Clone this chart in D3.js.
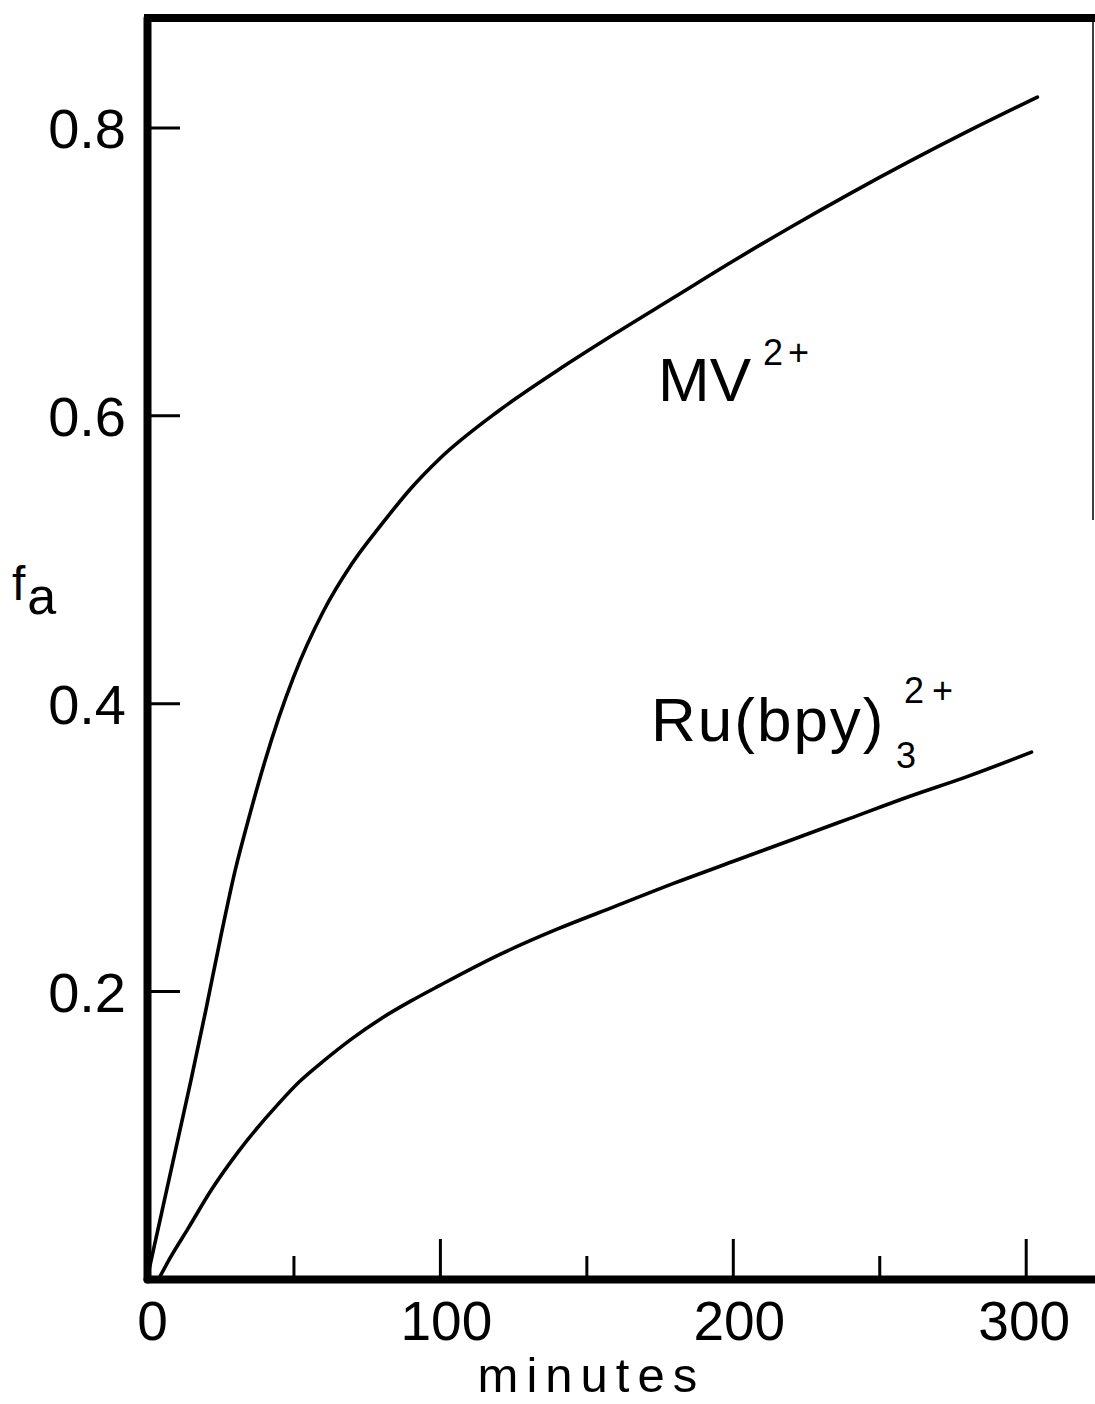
<!DOCTYPE html>
<html>
<head>
<meta charset="utf-8">
<script src="https://cdn.jsdelivr.net/npm/d3@7/dist/d3.min.js"></script>
<style>
  html, body { margin: 0; padding: 0; background: #fff; }
  svg { display: block; }
  text { font-family: "Liberation Sans", Arial, sans-serif; fill: #000; }
</style>
</head>
<body>
<svg id="chart" width="1095" height="1404"></svg>
<script>
// Fraction adsorbed (f_a) versus time in minutes
const mvMinutes = [0, 5, 10, 15, 20, 25, 30, 35, 40, 45, 50, 60, 70, 80, 90, 100, 120, 140, 160, 180, 200, 220, 240, 260, 280, 304];
const mvFraction = [0, 0.046, 0.092, 0.138, 0.186, 0.236, 0.283, 0.322, 0.358, 0.39, 0.418, 0.463, 0.497, 0.524, 0.549, 0.570, 0.603, 0.631, 0.657, 0.682, 0.707, 0.731, 0.754, 0.776, 0.797, 0.821];

const ruMinutes = [4, 8, 14, 22, 31, 45, 52, 60, 70, 80, 90, 100, 120, 140, 160, 180, 200, 220, 240, 260, 280, 302];
const ruFraction = [0, 0.015, 0.035, 0.062, 0.088, 0.122, 0.137, 0.151, 0.167, 0.181, 0.193, 0.204, 0.225, 0.243, 0.259, 0.275, 0.29, 0.305, 0.32, 0.335, 0.349, 0.366];

const xMajorTicks = [0, 100, 200, 300];
const xMinorTicks = [50, 150, 250];
const yTicks = [0.2, 0.4, 0.6, 0.8];
const yTickLabels = ["0.2", "0.4", "0.6", "0.8"];

const svg = d3.select("#chart");

const x = d3.scaleLinear().domain([0, 324]).range([147, 1096]);
const y = d3.scaleLinear().domain([0, 0.876]).range([1279, 18]);

const x0 = x(0), y0 = y(0);

// frame: top edge and a faint right edge
svg.append("line")
  .attr("x1", x0 - 3).attr("x2", 1095)
  .attr("y1", y.range()[1]).attr("y2", y.range()[1])
  .attr("stroke", "#000").attr("stroke-width", 8);
svg.append("line")
  .attr("x1", 1093).attr("x2", 1093)
  .attr("y1", y.range()[1]).attr("y2", 520)
  .attr("stroke", "#000").attr("stroke-width", 1.5);

// y axis with inward ticks
const yAxis = d3.axisLeft(y)
  .tickValues(yTicks)
  .tickFormat((d, i) => yTickLabels[i])
  .tickSizeInner(-33)
  .tickSizeOuter(0)
  .tickPadding(21);

const gy = svg.append("g")
  .attr("transform", `translate(${x0},0)`)
  .call(yAxis);
gy.select(".domain").attr("stroke-width", 8).attr("stroke-linecap", "round");
gy.selectAll(".tick line").attr("stroke-width", 3);
gy.selectAll(".tick text")
  .attr("font-size", 56)
  .attr("dy", "0.36em")
  .style("font-family", "'Liberation Sans', Arial, sans-serif");

// x axis: long ticks every 100 minutes, short ticks between
const xAxis = d3.axisBottom(x)
  .tickValues(xMajorTicks)
  .tickFormat(d3.format("d"))
  .tickSizeInner(-40)
  .tickSizeOuter(0)
  .tickPadding(22);

const gx = svg.append("g")
  .attr("transform", `translate(0,${y0})`)
  .call(xAxis);
gx.select(".domain").attr("stroke-width", 8).attr("stroke-linecap", "round");
gx.selectAll(".tick line")
  .attr("stroke-width", 3)
  .attr("display", d => d === 0 ? "none" : null);
gx.selectAll(".tick text")
  .attr("font-size", 55)
  .attr("dx", d => d === 0 ? 5 : (d === 300 ? -2 : 6))
  .style("font-family", "'Liberation Sans', Arial, sans-serif");

const xMinor = d3.axisBottom(x)
  .tickValues(xMinorTicks)
  .tickFormat("")
  .tickSizeInner(-23)
  .tickSizeOuter(0);
const gxm = svg.append("g")
  .attr("transform", `translate(0,${y0})`)
  .call(xMinor);
gxm.select(".domain").remove();
gxm.selectAll(".tick line").attr("stroke-width", 3);

// axis titles
svg.append("text")
  .attr("x", x(150) + 5).attr("y", 1392)
  .attr("text-anchor", "middle")
  .attr("font-size", 49)
  .attr("letter-spacing", 8)
  .text("minutes");

const fa = svg.append("text").attr("x", 12).attr("y", 600);
fa.append("tspan").attr("font-size", 48).text("f");
fa.append("tspan").attr("font-size", 52).attr("dy", 14).attr("dx", 2).text("a");

// curves
const line = d3.line()
  .x(d => x(d[0]))
  .y(d => y(d[1]))
  .curve(d3.curveMonotoneX);

const series = [
  d3.zip(mvMinutes, mvFraction),
  d3.zip(ruMinutes, ruFraction)
];

svg.append("g")
  .selectAll("path")
  .data(series)
  .join("path")
  .attr("d", line)
  .attr("fill", "none")
  .attr("stroke", "#000")
  .attr("stroke-width", 3.6)
  .attr("stroke-linecap", "round")
  .attr("stroke-linejoin", "round");

// curve labels
const mv = svg.append("text").attr("x", 658).attr("y", 401).attr("font-size", 62);
mv.append("tspan").text("MV");
mv.append("tspan").attr("font-size", 36).attr("dy", -36).attr("dx", 12).attr("letter-spacing", 5).text("2+");

const ru = svg.append("g");
ru.append("text").attr("x", 651).attr("y", 741).attr("font-size", 62)
  .attr("letter-spacing", 2).text("Ru(bpy)");
ru.append("text").attr("x", 896).attr("y", 768).attr("font-size", 36).text("3");
ru.append("text").attr("x", 904).attr("y", 703).attr("font-size", 36)
  .attr("letter-spacing", 8).text("2+");
</script>
</body>
</html>
